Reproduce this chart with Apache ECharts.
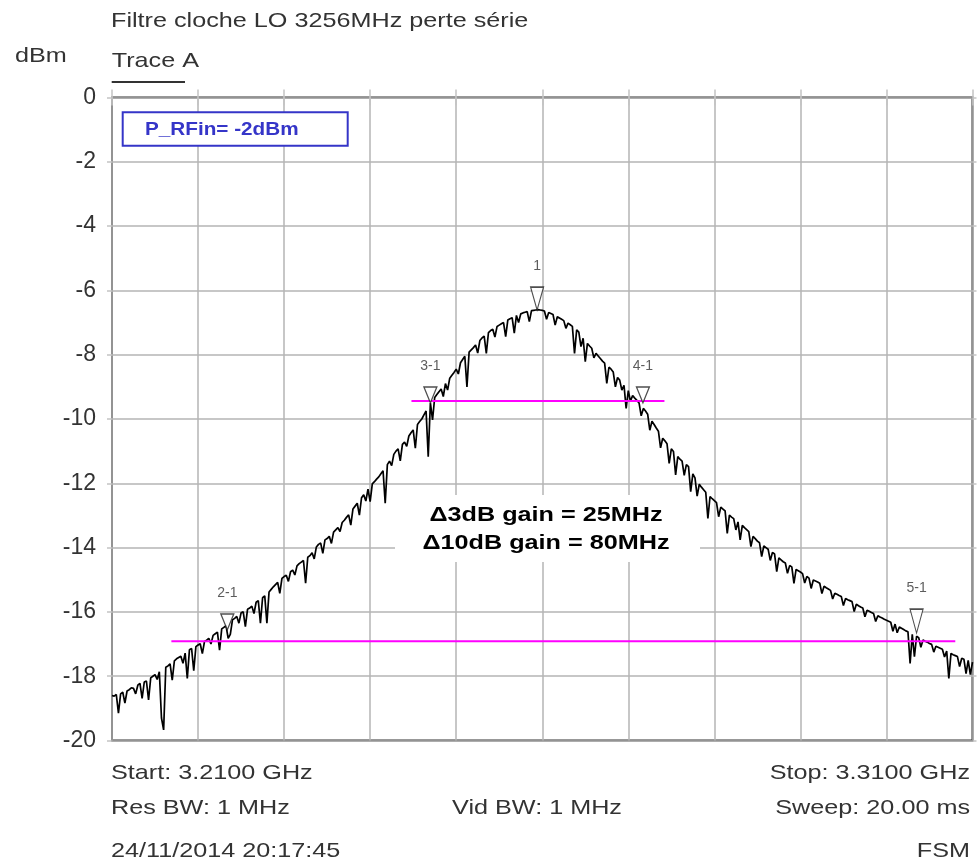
<!DOCTYPE html>
<html>
<head>
<meta charset="utf-8">
<script src="https://cdn.jsdelivr.net/npm/echarts@6/dist/echarts.min.js"></script>
<style>
html,body{margin:0;padding:0;background:#fff;}
#chart{width:978px;height:863px;}
</style>
</head>
<body>
<div id="chart"></div>
<script>
// ---------------- data ----------------
const START_MHZ = 3210;
const STOP_MHZ = 3310;
const STEP_MHZ = 0.25;
const yTicks = [0, -2, -4, -6, -8, -10, -12, -14, -16, -18, -20];
// trace A levels (dBm), one per 0.25 MHz sweep point, 3210 .. 3310 MHz
const traceLevels = [
-18.60,-18.62,-18.57,-19.15,
-18.55,-18.50,-18.84,-18.46,
-18.42,-18.36,-18.38,-18.55,
-18.28,-18.22,-18.69,-18.18,
-18.15,-18.74,-18.05,-18.00,
-17.95,-18.10,-17.86,-19.30,
-19.67,-17.72,-17.68,-17.62,
-18.12,-17.52,-17.46,-17.42,
-17.38,-17.60,-17.28,-18.07,
-17.18,-17.14,-17.83,-17.08,
-17.03,-16.99,-17.30,-16.92,
-16.88,-16.82,-17.00,-16.73,
-16.68,-16.63,-17.19,-16.53,
-16.48,-16.43,-16.82,-16.70,
-16.25,-16.20,-16.14,-16.35,
-16.03,-16.00,-16.46,-15.92,
-15.88,-15.82,-16.05,-15.70,
-15.65,-16.35,-15.56,-15.50,
-16.35,-15.38,-15.30,-15.22,
-15.15,-15.08,-15.42,-14.96,
-14.90,-14.86,-15.05,-14.75,
-14.70,-14.85,-14.57,-14.50,
-14.45,-14.40,-15.11,-14.30,
-14.25,-14.16,-14.35,-13.98,
-13.90,-13.86,-14.18,-13.76,
-13.72,-13.65,-13.87,-13.52,
-13.45,-13.38,-13.50,-13.22,
-13.15,-13.06,-12.98,-13.30,
-12.80,-12.71,-12.62,-12.99,
-12.45,-12.36,-12.55,-12.18,
-12.57,-12.02,-11.95,-11.87,
-11.80,-11.70,-11.61,-12.62,
-11.42,-11.31,-11.45,-11.10,
-11.00,-10.93,-11.30,-10.79,
-10.72,-10.85,-10.53,-10.43,
-10.34,-10.91,-10.17,-10.08,
-10.00,-9.87,-9.75,-11.17,
-9.50,-10.03,-9.33,-9.24,
-9.15,-9.07,-9.30,-8.90,
-9.10,-8.73,-8.64,-8.55,
-8.45,-8.60,-8.25,-8.15,
-8.05,-9.00,-7.92,-7.85,
-7.78,-7.70,-7.95,-7.56,
-7.48,-7.42,-7.96,-7.31,
-7.25,-7.21,-7.45,-7.12,
-7.08,-7.04,-7.00,-7.44,
-6.92,-6.88,-6.85,-7.33,
-6.78,-7.00,-6.73,-6.70,
-6.68,-6.66,-6.97,-6.63,
-6.62,-6.61,-6.60,-6.61,
-6.62,-6.64,-6.90,-6.69,
-6.72,-6.75,-7.08,-6.82,
-6.86,-6.90,-6.94,-7.18,
-7.02,-7.07,-7.12,-7.96,
-7.23,-7.30,-7.75,-7.49,
-8.22,-7.65,-7.73,-7.80,
-8.10,-7.96,-8.04,-8.12,
-8.20,-8.26,-8.89,-8.39,
-8.45,-8.54,-9.00,-8.71,
-8.79,-9.10,-8.95,-9.67,
-9.12,-9.45,-9.27,-9.35,
-9.42,-9.50,-9.90,-9.67,
-9.75,-9.85,-10.35,-10.07,
-10.17,-10.28,-10.38,-10.90,
-10.60,-10.68,-10.77,-11.38,
-10.93,-11.01,-11.74,-11.17,
-11.25,-11.31,-11.75,-11.42,
-11.48,-12.26,-11.71,-11.83,
-12.40,-12.03,-12.12,-12.20,
-12.28,-13.09,-12.41,-12.48,
-12.54,-12.60,-13.04,-12.74,
-12.80,-12.86,-13.56,-12.99,
-13.05,-13.10,-13.45,-13.20,
-13.76,-13.31,-13.38,-13.44,
-13.50,-13.97,-13.65,-13.72,
-13.80,-13.85,-14.28,-13.95,
-14.00,-14.05,-14.40,-14.15,
-14.20,-14.75,-14.32,-14.38,
-14.44,-14.48,-14.80,-14.56,
-14.60,-15.11,-14.68,-14.72,
-14.76,-14.81,-15.10,-14.90,
-14.95,-15.27,-15.01,-15.04,
-15.07,-15.11,-15.43,-15.20,
-15.25,-15.29,-15.33,-15.60,
-15.42,-15.45,-15.49,-15.52,
-15.80,-15.58,-15.62,-15.65,
-15.68,-15.99,-15.76,-15.81,
-15.85,-15.88,-16.15,-15.95,
-15.98,-16.02,-16.05,-16.30,
-16.12,-16.16,-16.19,-16.23,
-16.26,-16.29,-16.32,-16.60,
-16.38,-16.65,-16.47,-16.51,
-16.55,-16.59,-16.62,-17.60,
-16.70,-17.39,-16.76,-16.80,
-17.10,-16.87,-16.91,-16.94,
-16.98,-17.01,-17.25,-17.07,
-17.10,-17.13,-17.16,-17.40,
-17.22,-18.07,-17.29,-17.33,
-17.36,-17.39,-17.70,-17.44,
-17.47,-17.92,-17.51,-17.95,
-17.56
];
const markerNames = ['1', '2-1', '3-1', '4-1', '5-1'];
const markerFreqs = [3259.4, 3223.4, 3247.0, 3271.7, 3303.5];
const markerLevels = [-6.61, -16.56, -9.50, -9.50, -16.66];
const refLineLevels = [-9.44, -16.91];
const refLineStarts = [3244.8, 3216.9];
const refLineEnds = [3274.2, 3308.0];

// ---------------- chart ----------------
const chart = echarts.init(document.getElementById('chart'), null, {renderer: 'canvas'});
const FONT = '"Liberation Sans", Arial, sans-serif';
const TXT = '#333';
const SX = 1.2;

const traceData = traceLevels.map((v, i) => [START_MHZ + i * STEP_MHZ, v]);
const markerSizes = [[13, 23], [13, 16], [13, 16], [13, 16], [13, 24]];
const markerData = markerNames.map((n, i) => ({
  name: n,
  value: [markerFreqs[i], markerLevels[i]],
  symbolSize: markerSizes[i]
}));

const refSeries = refLineLevels.map((lv, i) => ({
  type: 'line',
  data: [[refLineStarts[i], lv], [refLineEnds[i], lv]],
  showSymbol: false,
  symbol: 'none',
  lineStyle: {color: '#ff00ff', width: 2},
  z: 4,
  silent: true,
  animation: false
}));

function txt(x, y, text, opt) {
  opt = opt || {};
  return {
    type: 'text', x: x, y: y, scaleX: opt.sx || SX, scaleY: 1, z: opt.z || 10,
    style: {
      x: 0, y: 0, text: text,
      fill: opt.color || TXT,
      font: (opt.weight || 'normal') + ' ' + (opt.size || 21) + 'px ' + FONT,
      textAlign: opt.align || 'left',
      textVerticalAlign: 'middle'
    }
  };
}

const option = {
  backgroundColor: '#fff',
  animation: false,
  grid: {
    left: 112, right: 5.5, top: 97.5, bottom: 122.5,
    show: true, borderColor: '#333', borderWidth: 2, backgroundColor: 'transparent'
  },
  xAxis: [{
    type: 'value', min: START_MHZ, max: STOP_MHZ, interval: 10,
    axisLine: {show: false},
    axisTick: {show: true, length: 8, lineStyle: {color: '#c4c4c4', width: 1.5}},
    axisLabel: {show: false},
    splitLine: {show: true, lineStyle: {color: '#b4b4b4', width: 1.5}}
  }, {
    type: 'value', position: 'top', min: START_MHZ, max: STOP_MHZ, interval: 10,
    axisLine: {show: false},
    axisTick: {show: true, length: 8, lineStyle: {color: '#c4c4c4', width: 1.5}},
    axisLabel: {show: false},
    splitLine: {show: false}
  }],
  yAxis: [{
    type: 'value', min: yTicks[yTicks.length - 1], max: yTicks[0], interval: 2,
    axisLine: {show: false},
    axisTick: {show: true, length: 5, lineStyle: {color: '#c4c4c4', width: 1.5}},
    axisLabel: {show: true, color: TXT, fontFamily: FONT, fontSize: 23, margin: 16},
    splitLine: {show: true, lineStyle: {color: '#b4b4b4', width: 1.5}}
  }, {
    type: 'value', position: 'right', min: yTicks[yTicks.length - 1], max: yTicks[0], interval: 2,
    axisLine: {show: false},
    axisTick: {show: true, length: 4, lineStyle: {color: '#c4c4c4', width: 1.5}},
    axisLabel: {show: false},
    splitLine: {show: false}
  }],
  series: [{
    type: 'line',
    name: 'Trace A',
    data: traceData,
    showSymbol: false,
    symbol: 'none',
    lineStyle: {color: '#000', width: 1.7},
    z: 3,
    silent: true
  }].concat(refSeries).concat([{
    type: 'scatter',
    data: markerData,
    symbol: 'path://M0,0 L12,0 L6,18 Z',
    symbolOffset: [0, '-50%'],
    itemStyle: {color: '#fff', borderColor: '#222', borderWidth: 1.3},
    label: {
      show: true, position: 'top', distance: 13,
      formatter: p => p.name,
      color: TXT, fontFamily: FONT, fontSize: 14
    },
    z: 6,
    silent: true
  }]),
  graphic: [
    txt(111, 21.5, 'Filtre cloche LO 3256MHz perte série'),
    txt(15, 56.5, 'dBm'),
    txt(111.7, 61, 'Trace A'),
    {type: 'line', z: 10, shape: {x1: 111.7, y1: 82, x2: 185, y2: 82}, style: {stroke: '#333', lineWidth: 2}},
    {type: 'rect', z: 1, shape: {x: 122.7, y: 112.3, width: 225, height: 33.4},
     style: {fill: '#fff', stroke: '#3535c8', lineWidth: 2}},
    txt(145, 130, 'P_RFin= -2dBm', {weight: 'bold', size: 18, sx: 1.15, color: '#3535c8'}),
    {type: 'rect', z: 1, shape: {x: 395, y: 495, width: 305, height: 67}, style: {fill: '#fff'}},
    txt(546, 515.7, 'Δ3dB gain = 25MHz', {weight: 'bold', size: 21, color: '#000', align: 'center'}),
    txt(546, 543, 'Δ10dB gain = 80MHz', {weight: 'bold', size: 21, color: '#000', align: 'center'}),
    txt(111, 773, 'Start: 3.2100 GHz'),
    txt(970, 773, 'Stop: 3.3100 GHz', {align: 'right'}),
    txt(111, 808, 'Res BW: 1 MHz'),
    txt(537, 808, 'Vid BW: 1 MHz', {align: 'center'}),
    txt(970, 808, 'Sweep: 20.00 ms', {align: 'right'}),
    txt(111, 851, '24/11/2014 20:17:45'),
    txt(970, 851, 'FSM', {align: 'right'})
  ]
};
chart.setOption(option);
</script>
</body>
</html>
